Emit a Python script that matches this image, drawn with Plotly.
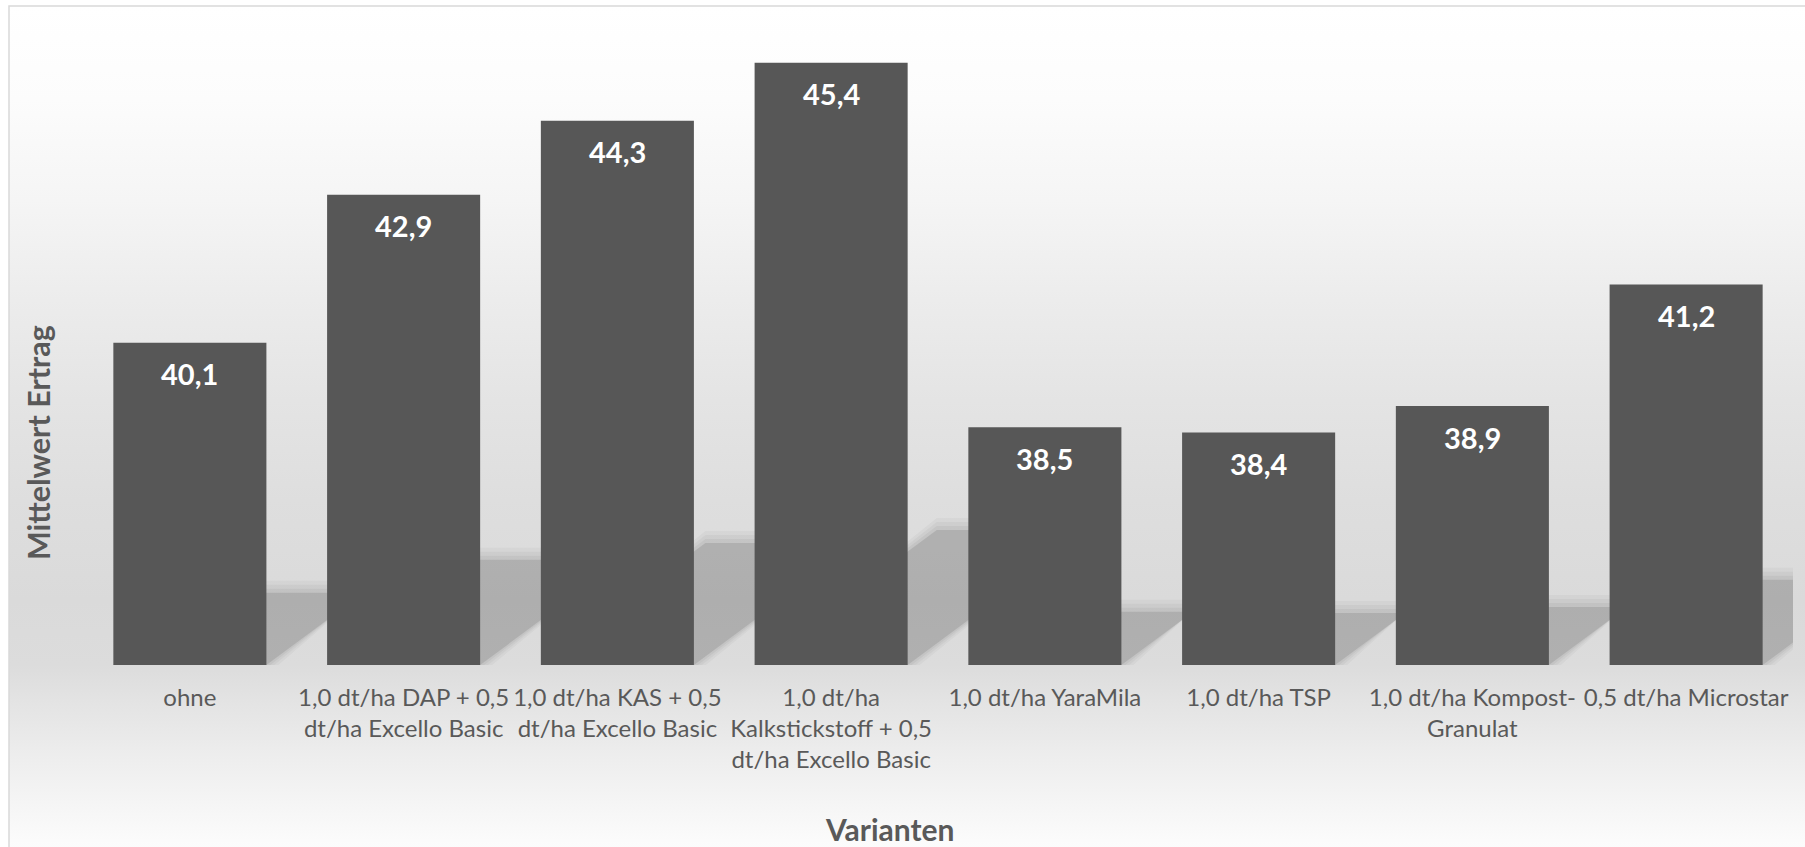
import base64
import plotly.graph_objects as go

# ---------------- data ----------------
categories = [
    "ohne",
    "1,0 dt/ha DAP + 0,5<br>dt/ha Excello Basic",
    "1,0 dt/ha KAS + 0,5<br>dt/ha Excello Basic",
    "1,0 dt/ha<br>Kalkstickstoff + 0,5<br>dt/ha Excello Basic",
    "1,0 dt/ha YaraMila",
    "1,0 dt/ha TSP",
    "1,0 dt/ha Kompost-<br>Granulat",
    "0,5 dt/ha Microstar",
]
values = [40.1, 42.9, 44.3, 45.4, 38.5, 38.4, 38.9, 41.2]
y_title = "Mittelwert Ertrag"
x_title = "Varianten"
y_min, y_max = 34, 46

# ---------------- layout constants ----------------
W, H = 1805, 847
ML, MR, MT, MB = 83, 12, 31, 182
PW, PH = W - ML - MR, H - MT - MB
n = len(categories)
px_per_cat = PW / n
px_per_unit = PH / (y_max - y_min)
bar_w = 0.716
FONT = "Lato, Carlito, Calibri, 'Open Sans', sans-serif"
GREY_TXT = "#595959"


def px_x(px):
    return (px - ML) / PW


def px_y(py):
    return (H - MB - py) / PH


# ---------------- background gradient (svg) ----------------
top_px, bot_px = 6, 880
stops = [(6, "#ffffff"), (100, "#fcfcfc"), (200, "#f5f5f5"), (300, "#ececec"),
         (400, "#e4e4e4"), (500, "#dedede"), (600, "#dadada"), (665, "#dcdcdc"),
         (700, "#e3e3e3"), (760, "#eeeeee"), (840, "#fbfbfb"), (880, "#ffffff")]
stop_xml = "".join(
    f'<stop offset="{(y - top_px) / (bot_px - top_px):.4f}" stop-color="{c}"/>' for y, c in stops)
svg = ('<svg xmlns="http://www.w3.org/2000/svg" width="100" height="100" preserveAspectRatio="none">'
       '<defs><linearGradient id="g" x1="0" y1="0" x2="0" y2="1">' + stop_xml +
       '</linearGradient></defs><rect x="0" y="0" width="100" height="100" fill="url(#g)"/></svg>')
svg_uri = "data:image/svg+xml;base64," + base64.b64encode(svg.encode()).decode()

fig = go.Figure()

fig.add_trace(go.Bar(
    x=list(range(n)), y=[v - y_min for v in values], base=y_min,
    width=bar_w, marker=dict(color="#575757", line=dict(width=0)),
    hoverinfo="skip", showlegend=False,
))

shapes = []
# soft perspective shadows behind the bars
shadow_frac = 0.224
skew = 1.35
for i, v in enumerate(values):
    h = (v - y_min) * shadow_frac
    sx = h * px_per_unit * skew / px_per_cat
    xl, xr = i - bar_w / 2, i + bar_w / 2
    for e_px, alpha in [(12, 0.03), (8, 0.035), (4, 0.045), (0, 0.1)]:
        ex = e_px / px_per_cat
        ey = e_px / px_per_unit
        path = (f"M {xl},{y_min} L {xr + ex},{y_min} L {xr + sx + ex},{y_min + h + ey} "
                f"L {xl + sx},{y_min + h + ey} Z")
        shapes.append(dict(type="path", path=path, xref="x", yref="y", layer="below",
                           fillcolor=f"rgba(0,0,0,{alpha})", line=dict(width=0)))

# chart border
shapes.append(dict(type="rect", xref="paper", yref="paper",
                   x0=px_x(9), x1=px_x(1840), y0=px_y(6), y1=px_y(900),
                   line=dict(color="#d9d9d9", width=1.5), fillcolor="rgba(0,0,0,0)", layer="above"))

annotations = []
for i, v in enumerate(values):
    annotations.append(dict(x=i, y=v, xref="x", yref="y", xanchor="center", yanchor="middle",
                            yshift=-31, text=f"{v:.1f}".replace(".", ","), showarrow=False,
                            font=dict(family=FONT, size=29, color="white", weight="bold")))
annotations.append(dict(x=px_x(890), y=px_y(829), xref="paper", yref="paper",
                        xanchor="center", yanchor="middle",
                        text=f"<b>{x_title}</b>", showarrow=False,
                        font=dict(family=FONT, size=30, color=GREY_TXT)))
annotations.append(dict(x=px_x(38), y=px_y(443), xref="paper", yref="paper",
                        xanchor="center", yanchor="middle",
                        text=f"<b>{y_title}</b>", textangle=-90, showarrow=False,
                        font=dict(family=FONT, size=30.5, color=GREY_TXT)))

fig.update_layout(
    width=W, height=H,
    margin=dict(l=ML, r=MR, t=MT, b=MB, pad=0, autoexpand=False),
    paper_bgcolor="white", plot_bgcolor="rgba(0,0,0,0)",
    barmode="overlay",
    shapes=shapes, annotations=annotations,
    images=[dict(source=svg_uri, xref="paper", yref="paper",
                 x=px_x(9), y=px_y(top_px), sizex=(1840 - 9) / PW, sizey=(bot_px - top_px) / PH,
                 xanchor="left", yanchor="top", sizing="stretch", layer="below")],
    xaxis=dict(range=[-0.5, n - 0.5], tickmode="array", tickvals=list(range(n)),
               ticktext=categories, showgrid=False, zeroline=False, showline=False,
               ticks="", ticklabelstandoff=16, tickangle=0, automargin=False,
               tickfont=dict(family=FONT, size=24, color=GREY_TXT), fixedrange=True),
    yaxis=dict(range=[y_min, y_max], visible=False, fixedrange=True, automargin=False),
    showlegend=False,
)

fig.write_html("out.html", config={"displayModeBar": False},
               post_script="document.body.style.margin='0';")
